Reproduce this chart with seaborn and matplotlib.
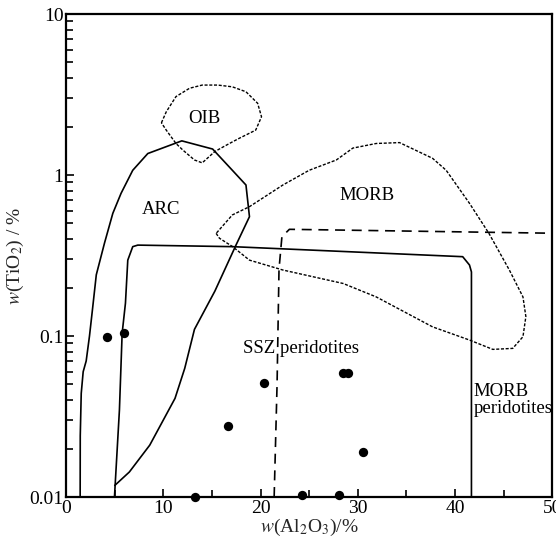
import matplotlib
matplotlib.use("Agg")
import matplotlib.pyplot as plt
import seaborn as sns
from matplotlib.ticker import MultipleLocator, LogLocator, NullFormatter

# --- sample points ---
al2o3 = [4.2, 6.0, 13.3, 16.7, 20.4, 24.3, 28.1, 28.45, 29.0, 30.5]
tio2 = [0.098, 0.104, 0.010, 0.0277, 0.0508, 0.0103, 0.0103, 0.0592, 0.0592, 0.019]

# --- field outlines ---
arc_x = [1.44, 1.45, 1.55, 1.75, 2.06, 2.4, 2.7, 3.1, 3.94, 4.8, 5.65, 6.85, 8.4,
         11.9, 15.07, 17.1, 18.5, 18.86, 17.5, 15.3, 13.2, 12.2, 11.2, 8.6, 6.5, 5.0]
arc_y = [0.01, 0.024, 0.044, 0.06, 0.07, 0.1, 0.145, 0.24, 0.377, 0.578, 0.77, 1.07, 1.36,
         1.63, 1.45, 1.07, 0.867, 0.551, 0.37, 0.19, 0.11, 0.063, 0.041, 0.021, 0.0143, 0.0118]

ssz_x = [4.97, 5.48, 5.76, 6.1, 6.34, 6.85, 7.37, 17.1, 40.8, 41.5, 41.7, 41.7]
ssz_y = [0.01, 0.0347, 0.104, 0.16, 0.296, 0.359, 0.367, 0.359, 0.311, 0.276, 0.25, 0.01]

morb_per_x = [21.4, 21.7, 21.9, 22.2, 22.97, 50.0]
morb_per_y = [0.01, 0.05, 0.26, 0.414, 0.46, 0.435]

oib_x = [9.8, 10.3, 11.3, 12.7, 14.0, 15.6, 17.1, 18.5, 19.7, 20.1, 19.5, 17.8,
         16.8, 15.3, 14.0, 13.2, 12.0, 11.3, 10.3, 9.8]
oib_y = [2.11, 2.47, 3.07, 3.46, 3.62, 3.62, 3.53, 3.29, 2.79, 2.30, 1.90, 1.69,
         1.57, 1.40, 1.19, 1.24, 1.43, 1.57, 1.90, 2.11]

morb_x = [15.43, 15.77, 17.1, 18.86, 22.3, 28.5, 31.9, 37.7, 41.5, 43.9, 45.95, 47.0,
          47.3, 47.0, 45.6, 43.5, 41.5, 39.1, 37.7, 34.3, 31.9, 29.5, 27.8, 25.0,
          22.3, 18.86, 17.1, 15.43]
morb_y = [0.434, 0.405, 0.36, 0.296, 0.257, 0.212, 0.175, 0.114, 0.0944, 0.0826, 0.0838, 0.099,
          0.132, 0.175, 0.257, 0.434, 0.667, 1.07, 1.27, 1.59, 1.57, 1.47, 1.24, 1.07,
          0.867, 0.636, 0.565, 0.434]

sns.set_style("ticks")
plt.rcParams["font.family"] = ["Liberation Serif", "DejaVu Serif"]
plt.rcParams["mathtext.fontset"] = "stix"

fig = plt.figure(figsize=(5.56, 5.52), dpi=100)
ax = fig.add_axes([0.119, 0.0996, 0.874, 0.875])

line_kw = dict(sort=False, estimator=None, color="black", ax=ax, legend=False)
sns.lineplot(x=arc_x, y=arc_y, lw=1.2, **line_kw)
sns.lineplot(x=ssz_x, y=ssz_y, lw=1.2, **line_kw)
sns.lineplot(x=morb_per_x, y=morb_per_y, lw=1.2, linestyle=(0, (6, 4)), **line_kw)
sns.lineplot(x=oib_x, y=oib_y, lw=1.0, linestyle=(0, (2.2, 1.2)), **line_kw)
sns.lineplot(x=morb_x, y=morb_y, lw=1.0, linestyle=(0, (2.2, 1.2)), **line_kw)

sns.scatterplot(x=al2o3, y=tio2, color="black", s=45, edgecolor="black",
                linewidth=0, ax=ax, clip_on=False, zorder=5)

ax.set_xlim(0, 50)
ax.set_yscale("log")
ax.set_ylim(0.01, 10)
ax.xaxis.set_major_locator(MultipleLocator(10))
ax.xaxis.set_minor_locator(MultipleLocator(5))
ax.set_yticks([0.01, 0.1, 1, 10])
ax.set_yticklabels(["0.01", "0.1", "1", "10"])
ax.yaxis.set_minor_locator(LogLocator(base=10, subs=range(2, 10)))
ax.yaxis.set_minor_formatter(NullFormatter())
ax.tick_params(which="both", direction="in", top=False, right=False,
               labelsize=14, width=1.2, colors="black")
ax.tick_params(which="major", length=6, pad=2)
ax.tick_params(which="minor", length=5)
for sp in ax.spines.values():
    sp.set_visible(True)
    sp.set_linewidth(1.6)
    sp.set_color("black")

ax.set_xlabel(r"$w$(Al$_2$O$_3$)/%", fontsize=14, labelpad=0)
ax.set_ylabel(r"$w$(TiO$_2$) / %", fontsize=14, labelpad=2)

txt = dict(fontsize=13.5, color="black", va="center")
ax.text(14.25, 2.25, "OIB", ha="center", **txt)
ax.text(9.8, 0.607, "ARC", ha="center", **txt)
ax.text(31.0, 0.75, "MORB", ha="center", **txt)
ax.text(24.2, 0.084, "SSZ peridotites", ha="center", **txt)
ax.text(41.9, 0.04, "MORB\nperidotites", ha="left", linespacing=1.0, **txt)

fig.savefig("out.png", dpi=100)
